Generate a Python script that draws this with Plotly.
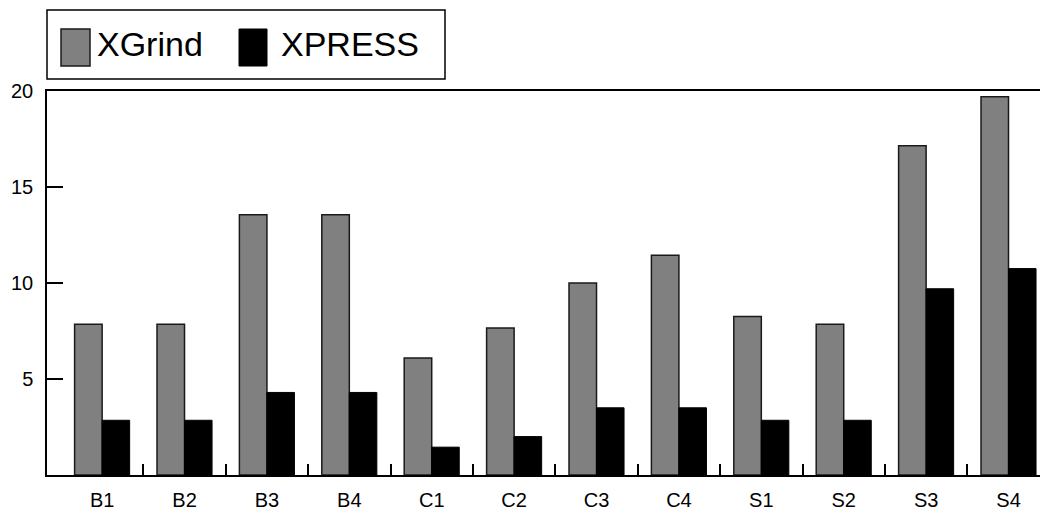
import plotly.graph_objects as go

# Benchmark names and measured values
categories = ["B1", "B2", "B3", "B4", "C1", "C2", "C3", "C4", "S1", "S2", "S3", "S4"]
xgrind = [7.85, 7.85, 13.55, 13.55, 6.1, 7.65, 10.0, 11.45, 8.25, 7.85, 17.15, 19.7]
xpress = [2.85, 2.85, 4.3, 4.3, 1.45, 2.0, 3.5, 3.5, 2.85, 2.85, 9.7, 10.75]
y_ticks = [5, 10, 15, 20]

W, H = 1040, 514
L, R, T, B = 47, 0, 91, 39
FONT = "Liberation Sans, Arial, sans-serif"

xpos = list(range(len(categories)))
bar_w = 0.334

fig = go.Figure()
fig.add_trace(go.Bar(
    x=xpos, y=xgrind, name="XGrind", width=bar_w, offset=-bar_w,
    marker=dict(color="#808080", line=dict(color="#1a1a1a", width=1.5)),
))
fig.add_trace(go.Bar(
    x=xpos, y=xpress, name="XPRESS", width=bar_w, offset=0,
    marker=dict(color="#000000", line=dict(color="#000000", width=1)),
))

# pixel -> paper helpers for the legend box drawn above the plot
pw = W - L - R
ph = H - T - B
def px(x):
    return (x - L) / pw
def py(y):
    return (H - B - y) / ph

shapes = [
    dict(type="rect", xref="paper", yref="paper", x0=px(47), x1=px(445), y0=py(79), y1=py(10),
         line=dict(color="#000000", width=1.5), fillcolor="white"),
    dict(type="rect", xref="paper", yref="paper", x0=px(61), x1=px(90), y0=py(66), y1=py(29),
         line=dict(color="#1a1a1a", width=1.5), fillcolor="#808080"),
    dict(type="rect", xref="paper", yref="paper", x0=px(239), x1=px(267), y0=py(66), y1=py(29),
         line=dict(color="#000000", width=1), fillcolor="#000000"),
]
annotations = [
    dict(xref="paper", yref="paper", x=px(95), y=py(44), text="XGrind", showarrow=False,
         xanchor="left", yanchor="middle", font=dict(family=FONT, size=34, color="#000000")),
    dict(xref="paper", yref="paper", x=px(279), y=py(44), text="XPRESS", showarrow=False,
         xanchor="left", yanchor="middle", font=dict(family=FONT, size=34, color="#000000")),
]

fig.update_layout(
    width=W, height=H, autosize=False,
    margin=dict(l=L, r=R, t=T, b=B, pad=0),
    plot_bgcolor="white", paper_bgcolor="white",
    barmode="overlay", showlegend=False,
    font=dict(family=FONT, size=20, color="#000000"),
    shapes=shapes, annotations=annotations,
    xaxis=dict(
        range=[-0.669, 11.382], tickmode="array", tickvals=xpos, ticktext=categories,
        ticks="", showgrid=False, zeroline=False,
        showline=True, linecolor="#000000", linewidth=1.5, mirror=True,
        ticklabelstandoff=6,
        minor=dict(tickmode="array", tickvals=[i + 0.5 for i in xpos[:-1]],
                   ticks="inside", ticklen=11, tickcolor="#000000", tickwidth=1.5, showgrid=False),
        tickfont=dict(family=FONT, size=20, color="#000000"),
    ),
    yaxis=dict(
        range=[0, 20], tickmode="array", tickvals=y_ticks, ticktext=[str(v) for v in y_ticks],
        ticks="inside", ticklen=16, tickcolor="#000000", tickwidth=1.5,
        showgrid=False, zeroline=False,
        showline=True, linecolor="#000000", linewidth=1.5, mirror=False,
        ticklabelstandoff=8,
        tickfont=dict(family=FONT, size=20, color="#000000"),
    ),
)

fig.write_html("out.html")
